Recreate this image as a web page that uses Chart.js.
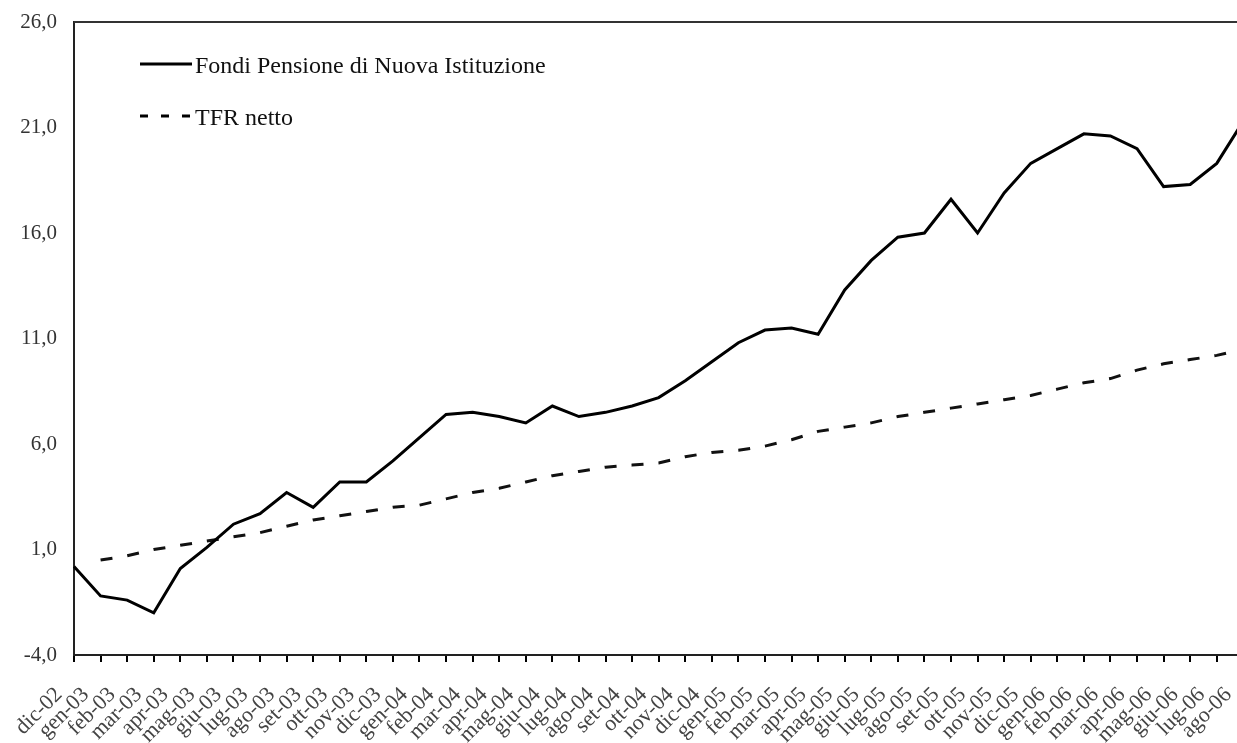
<!DOCTYPE html>
<html>
<head>
<meta charset="utf-8">
<script src="https://cdn.jsdelivr.net/npm/chart.js@4.4.1/dist/chart.umd.min.js"></script>
<style>
  html, body { margin: 0; padding: 0; background: #fff; overflow: hidden; }
  #wrap { width: 1282px; height: 743px; }
</style>
</head>
<body>
<div id="wrap"><canvas id="grafico" width="1282" height="743"></canvas></div>
<script>
// Mesi (dic-02 .. ago-06)
const mesi = [
  'dic-02',
  'gen-03', 'feb-03', 'mar-03', 'apr-03', 'mag-03', 'giu-03', 'lug-03', 'ago-03', 'set-03', 'ott-03', 'nov-03', 'dic-03',
  'gen-04', 'feb-04', 'mar-04', 'apr-04', 'mag-04', 'giu-04', 'lug-04', 'ago-04', 'set-04', 'ott-04', 'nov-04', 'dic-04',
  'gen-05', 'feb-05', 'mar-05', 'apr-05', 'mag-05', 'giu-05', 'lug-05', 'ago-05', 'set-05', 'ott-05', 'nov-05', 'dic-05',
  'gen-06', 'feb-06', 'mar-06', 'apr-06', 'mag-06', 'giu-06', 'lug-06', 'ago-06'
];

// Rendimento cumulato (%)
const fondiPensione = [
  0.2,
  -1.2, -1.4, -2.0, 0.1, 1.1, 2.2, 2.7, 3.7, 3.0, 4.2, 4.2, 5.2,
  6.3, 7.4, 7.5, 7.3, 7.0, 7.8, 7.3, 7.5, 7.8, 8.2, 9.0, 9.9,
  10.8, 11.4, 11.5, 11.2, 13.3, 14.7, 15.8, 16.0, 17.6, 16.0, 17.9, 19.3,
  20.0, 20.7, 20.6, 20.0, 18.2, 18.3, 19.3, 21.3
];

const tfrNetto = [
  null,
  0.5, 0.7, 1.0, 1.2, 1.4, 1.6, 1.8, 2.1, 2.4, 2.6, 2.8, 3.0,
  3.1, 3.4, 3.7, 3.9, 4.2, 4.5, 4.7, 4.9, 5.0, 5.1, 5.4, 5.6,
  5.7, 5.9, 6.2, 6.6, 6.8, 7.0, 7.3, 7.5, 7.7, 7.9, 8.1, 8.3,
  8.6, 8.9, 9.1, 9.5, 9.8, 10.0, 10.2, 10.5
];

// Asse y
const yMin = -4;
const yMax = 26;
const yPasso = 5;

const fontSerif = '"Liberation Serif", "Times New Roman", serif';

// Legenda disegnata dentro l'area del grafico, in alto a sinistra
const legendaInterna = {
  id: 'legendaInterna',
  afterDraw(chart) {
    const ctx = chart.ctx;
    ctx.save();
    ctx.font = '24px ' + fontSerif;
    ctx.fillStyle = '#111';
    ctx.textBaseline = 'middle';
    chart.data.datasets.forEach((ds, i) => {
      const y = 64 + i * 52;
      ctx.beginPath();
      ctx.setLineDash(i === 0 ? [] : [8, 13]);
      ctx.lineWidth = 3;
      ctx.strokeStyle = '#000';
      ctx.moveTo(140, y);
      ctx.lineTo(192, y);
      ctx.stroke();
      ctx.setLineDash([]);
      ctx.fillText(ds.label, 195, y + 3);
    });
    ctx.restore();
  }
};

// Bordo superiore dell'area del grafico
const bordoSopra = {
  id: 'bordoSopra',
  afterDraw(chart) {
    const { ctx, chartArea } = chart;
    ctx.save();
    ctx.strokeStyle = '#333';
    ctx.lineWidth = 2;
    ctx.beginPath();
    ctx.moveTo(chartArea.left, chartArea.top);
    ctx.lineTo(chartArea.right, chartArea.top);
    ctx.stroke();
    ctx.restore();
  }
};

const ctx = document.getElementById('grafico').getContext('2d');
const grafico = new Chart(ctx, {
  type: 'line',
  data: {
    labels: mesi,
    datasets: [
      {
        label: 'Fondi Pensione di Nuova Istituzione',
        data: fondiPensione,
        borderColor: '#000',
        borderWidth: 3,
        pointRadius: 0,
        tension: 0
      },
      {
        label: 'TFR netto',
        data: tfrNetto,
        borderColor: '#111',
        borderWidth: 3,
        borderDash: [12, 15],
        pointRadius: 0,
        tension: 0
      }
    ]
  },
  options: {
    responsive: false,
    animation: false,
    layout: { padding: { top: 22, left: 0, right: 0, bottom: 0 } },
    plugins: {
      legend: { display: false },
      tooltip: { enabled: false }
    },
    scales: {
      x: {
        offset: false,
        grid: { display: true, drawOnChartArea: false, tickLength: 7, color: '#000', lineWidth: 2 },
        border: { display: true, color: '#222', width: 2 },
        ticks: {
          autoSkip: false,
          minRotation: 45,
          maxRotation: 45,
          padding: 20,
          labelOffset: -15,
          color: '#444',
          font: { family: fontSerif, size: 22 }
        },
        afterFit(scale) { scale.height = 88; }
      },
      y: {
        min: yMin,
        max: yMax,
        grid: { display: false },
        border: { display: true, color: '#222', width: 2 },
        ticks: {
          stepSize: yPasso,
          padding: 9,
          color: '#333',
          font: { family: fontSerif, size: 21 },
          callback: (v) => v.toFixed(1).replace('.', ',')
        },
        afterFit(scale) { scale.width = 74; }
      }
    }
  },
  plugins: [legendaInterna, bordoSopra]
});
</script>
</body>
</html>
